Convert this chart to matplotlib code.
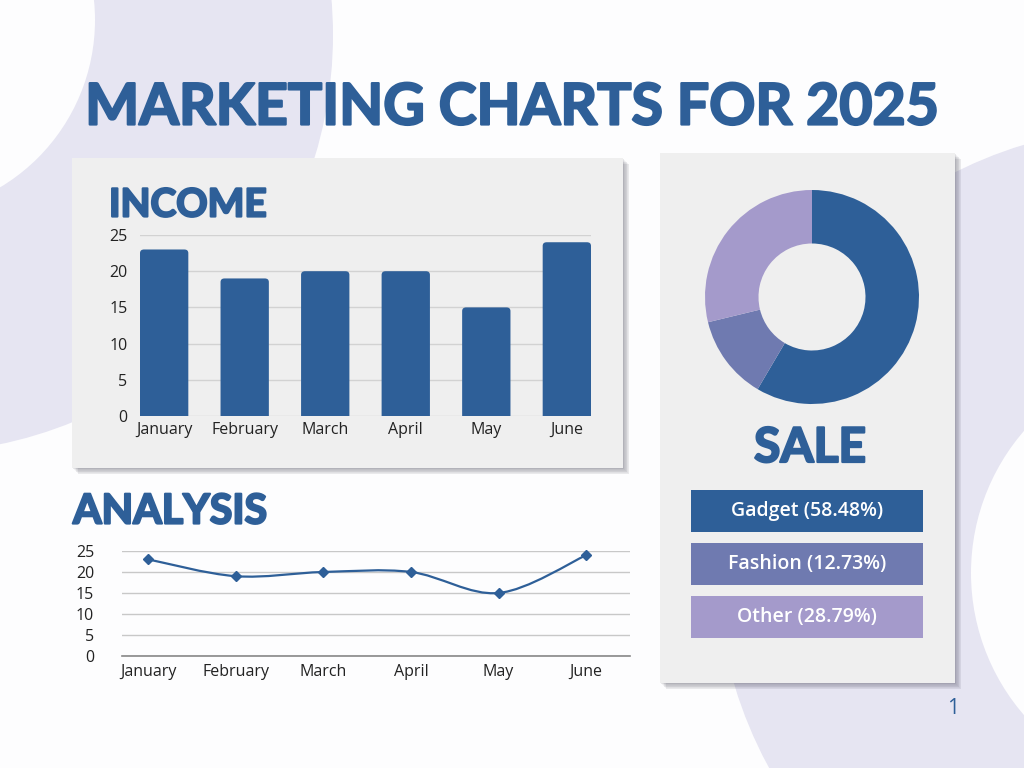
import numpy as np
import matplotlib.pyplot as plt
import matplotlib.patches as patches
import matplotlib.patheffects as pe
from matplotlib.path import Path

# --- data ---
months = ["January", "February", "March", "April", "May", "June"]
income = [23, 19, 20, 20, 15, 24]
analysis = [23, 19, 20, 20, 15, 24]
sale_labels = ["Gadget", "Fashion", "Other"]
sale_values = [58.48, 12.73, 28.79]

BLUE = "#2e5f98"
SALE_COLORS = ["#2e5f98", "#6f7ab0", "#a49acb"]
LAVENDER = "#e6e5f2"
PANEL = "#efefef"
BG = "#fdfdfe"
W, H = 1024, 768

plt.rcParams['font.family'] = ['Open Sans', 'DejaVu Sans']
TITLE_FONT = ['Lato', 'DejaVu Sans']
thick = [pe.withStroke(linewidth=1.6, foreground=BLUE)]

fig = plt.figure(figsize=(10.24, 7.68), dpi=100, facecolor=BG)


def fig_rect(x0, y0, x1, y1):
    # pixel box (top-left origin) -> figure fraction rect
    return [x0 / W, 1 - y1 / H, (x1 - x0) / W, (y1 - y0) / H]


# background layer in pixel coordinates
bg = fig.add_axes([0, 0, 1, 1], zorder=0)
bg.set_xlim(0, W)
bg.set_ylim(H, 0)
bg.axis('off')

bg.add_patch(patches.Circle((-85, 35), 418, color=LAVENDER, lw=0))
bg.add_patch(patches.Circle((-100, 20), 195, color=BG, lw=0))
bg.add_patch(patches.Circle((1150, 560), 434, color=LAVENDER, lw=0))
bg.add_patch(patches.Circle((1188, 573), 217, color=BG, lw=0))


def panel(x0, y0, x1, y1):
    for k in range(1, 10):
        bg.add_patch(patches.Rectangle((x0 + k * 0.7, y0 + k * 0.7), x1 - x0, y1 - y0,
                                       color="#4a4a5a", alpha=0.055, lw=0))
    bg.add_patch(patches.Rectangle((x0, y0), x1 - x0, y1 - y0, color=PANEL, lw=0))


panel(72, 158, 623, 468)
panel(660, 153, 955, 683)

bg.text(512, 108, "MARKETING CHARTS FOR 2025", color=BLUE, fontsize=41.2,
        fontweight='bold', family=TITLE_FONT, ha='center', va='center', path_effects=thick)
bg.text(109, 205, "INCOME", color=BLUE, fontsize=28, fontweight='bold',
        family=TITLE_FONT, ha='left', va='center', path_effects=thick)
bg.text(73, 512, "ANALYSIS", color=BLUE, fontsize=29.6, fontweight='bold',
        family=TITLE_FONT, ha='left', va='center', path_effects=thick)
bg.text(810, 448, "SALE", color=BLUE, fontsize=34.5, fontweight='bold',
        family=TITLE_FONT, ha='center', va='center', path_effects=thick)
bg.text(953, 708, "1", color=BLUE, fontsize=15, ha='center', va='center')

# --- income bar chart ---
ax1 = fig.add_axes(fig_rect(140, 235, 591, 416), zorder=2)
ax1.patch.set_alpha(0)
x = np.arange(len(months))
bars = ax1.bar(x, income, width=0.6, color=BLUE, zorder=3)
# swap the plain bars for ones with slightly rounded top corners
for b in bars:
    bx, bw, bh = b.get_x(), b.get_width(), b.get_height()
    b.set_visible(False)
    ax1.add_patch(patches.FancyBboxPatch((bx, -1), bw, bh + 1,
                                         boxstyle="round,pad=0,rounding_size=0.05",
                                         mutation_aspect=10, fc=BLUE, ec='none', zorder=3))
ax1.set_xlim(-0.3, 5.3)
ax1.set_ylim(0, 25)
ax1.set_yticks([0, 5, 10, 15, 20, 25])
ax1.set_xticks(x)
ax1.set_xticklabels(months)
ax1.grid(axis='y', color='#d2d2d2', lw=1, zorder=0)
ax1.set_axisbelow(True)
for s in ax1.spines.values():
    s.set_visible(False)
ax1.tick_params(length=0, labelsize=11.5, colors='#222222')
ax1.tick_params(axis='y', pad=9)
ax1.tick_params(axis='x', pad=4)

# --- analysis line chart ---
ax2 = fig.add_axes(fig_rect(122, 551, 630, 656), zorder=2)
ax2.patch.set_alpha(0)
ax2.set_xlim(-0.3, 5.5)
ax2.set_ylim(0, 25)
ax2.set_yticks([0, 5, 10, 15, 20, 25])
ax2.set_xticks(x)
ax2.set_xticklabels(months)
ax2.grid(axis='y', color='#c8c8c8', lw=1)
ax2.set_axisbelow(True)
for name, s in ax2.spines.items():
    s.set_visible(name == 'bottom')
ax2.spines['bottom'].set_color('#888888')
ax2.spines['bottom'].set_linewidth(1.2)
ax2.tick_params(length=0, labelsize=11.5, colors='#222222')
ax2.tick_params(axis='y', pad=20)
ax2.tick_params(axis='x', pad=6)

# smooth curve through the points (Catmull-Rom as cubic Bezier)
pts = np.column_stack([x, analysis]).astype(float)
ext = np.vstack([pts[0], pts, pts[-1]])
verts = [tuple(pts[0])]
codes = [Path.MOVETO]
for i in range(len(pts) - 1):
    p0, p1, p2, p3 = ext[i], ext[i + 1], ext[i + 2], ext[i + 3]
    c1 = p1 + (p2 - p0) / 6
    c2 = p2 - (p3 - p1) / 6
    verts += [tuple(c1), tuple(c2), tuple(p2)]
    codes += [Path.CURVE4] * 3
ax2.add_patch(patches.PathPatch(Path(verts, codes), fill=False, ec=BLUE, lw=1.6, zorder=3))
ax2.plot(x, analysis, ls='none', marker='D', ms=5.5, color=BLUE, zorder=4, clip_on=False)

# --- sale donut ---
ax3 = fig.add_axes(fig_rect(705, 190, 919, 404), zorder=2)
ax3.pie(sale_values, colors=SALE_COLORS, startangle=90, counterclock=False,
        radius=1, wedgeprops=dict(width=0.5, edgecolor='none'))
ax3.set_xlim(-1, 1)
ax3.set_ylim(-1, 1)
ax3.set_aspect('equal')
ax3.axis('off')

# legend boxes
box_top = [490, 543, 596]
for lab, val, col, yt in zip(sale_labels, sale_values, SALE_COLORS, box_top):
    bg.add_patch(patches.Rectangle((691, yt), 232, 42, color=col, lw=0, zorder=3))
    bg.text(807, yt + 21, f"{lab} ({val:.2f}%)", color='white', fontsize=14,
            fontweight='semibold', ha='center', va='center', zorder=4)

fig.savefig("out.png", dpi=100, facecolor=BG)
